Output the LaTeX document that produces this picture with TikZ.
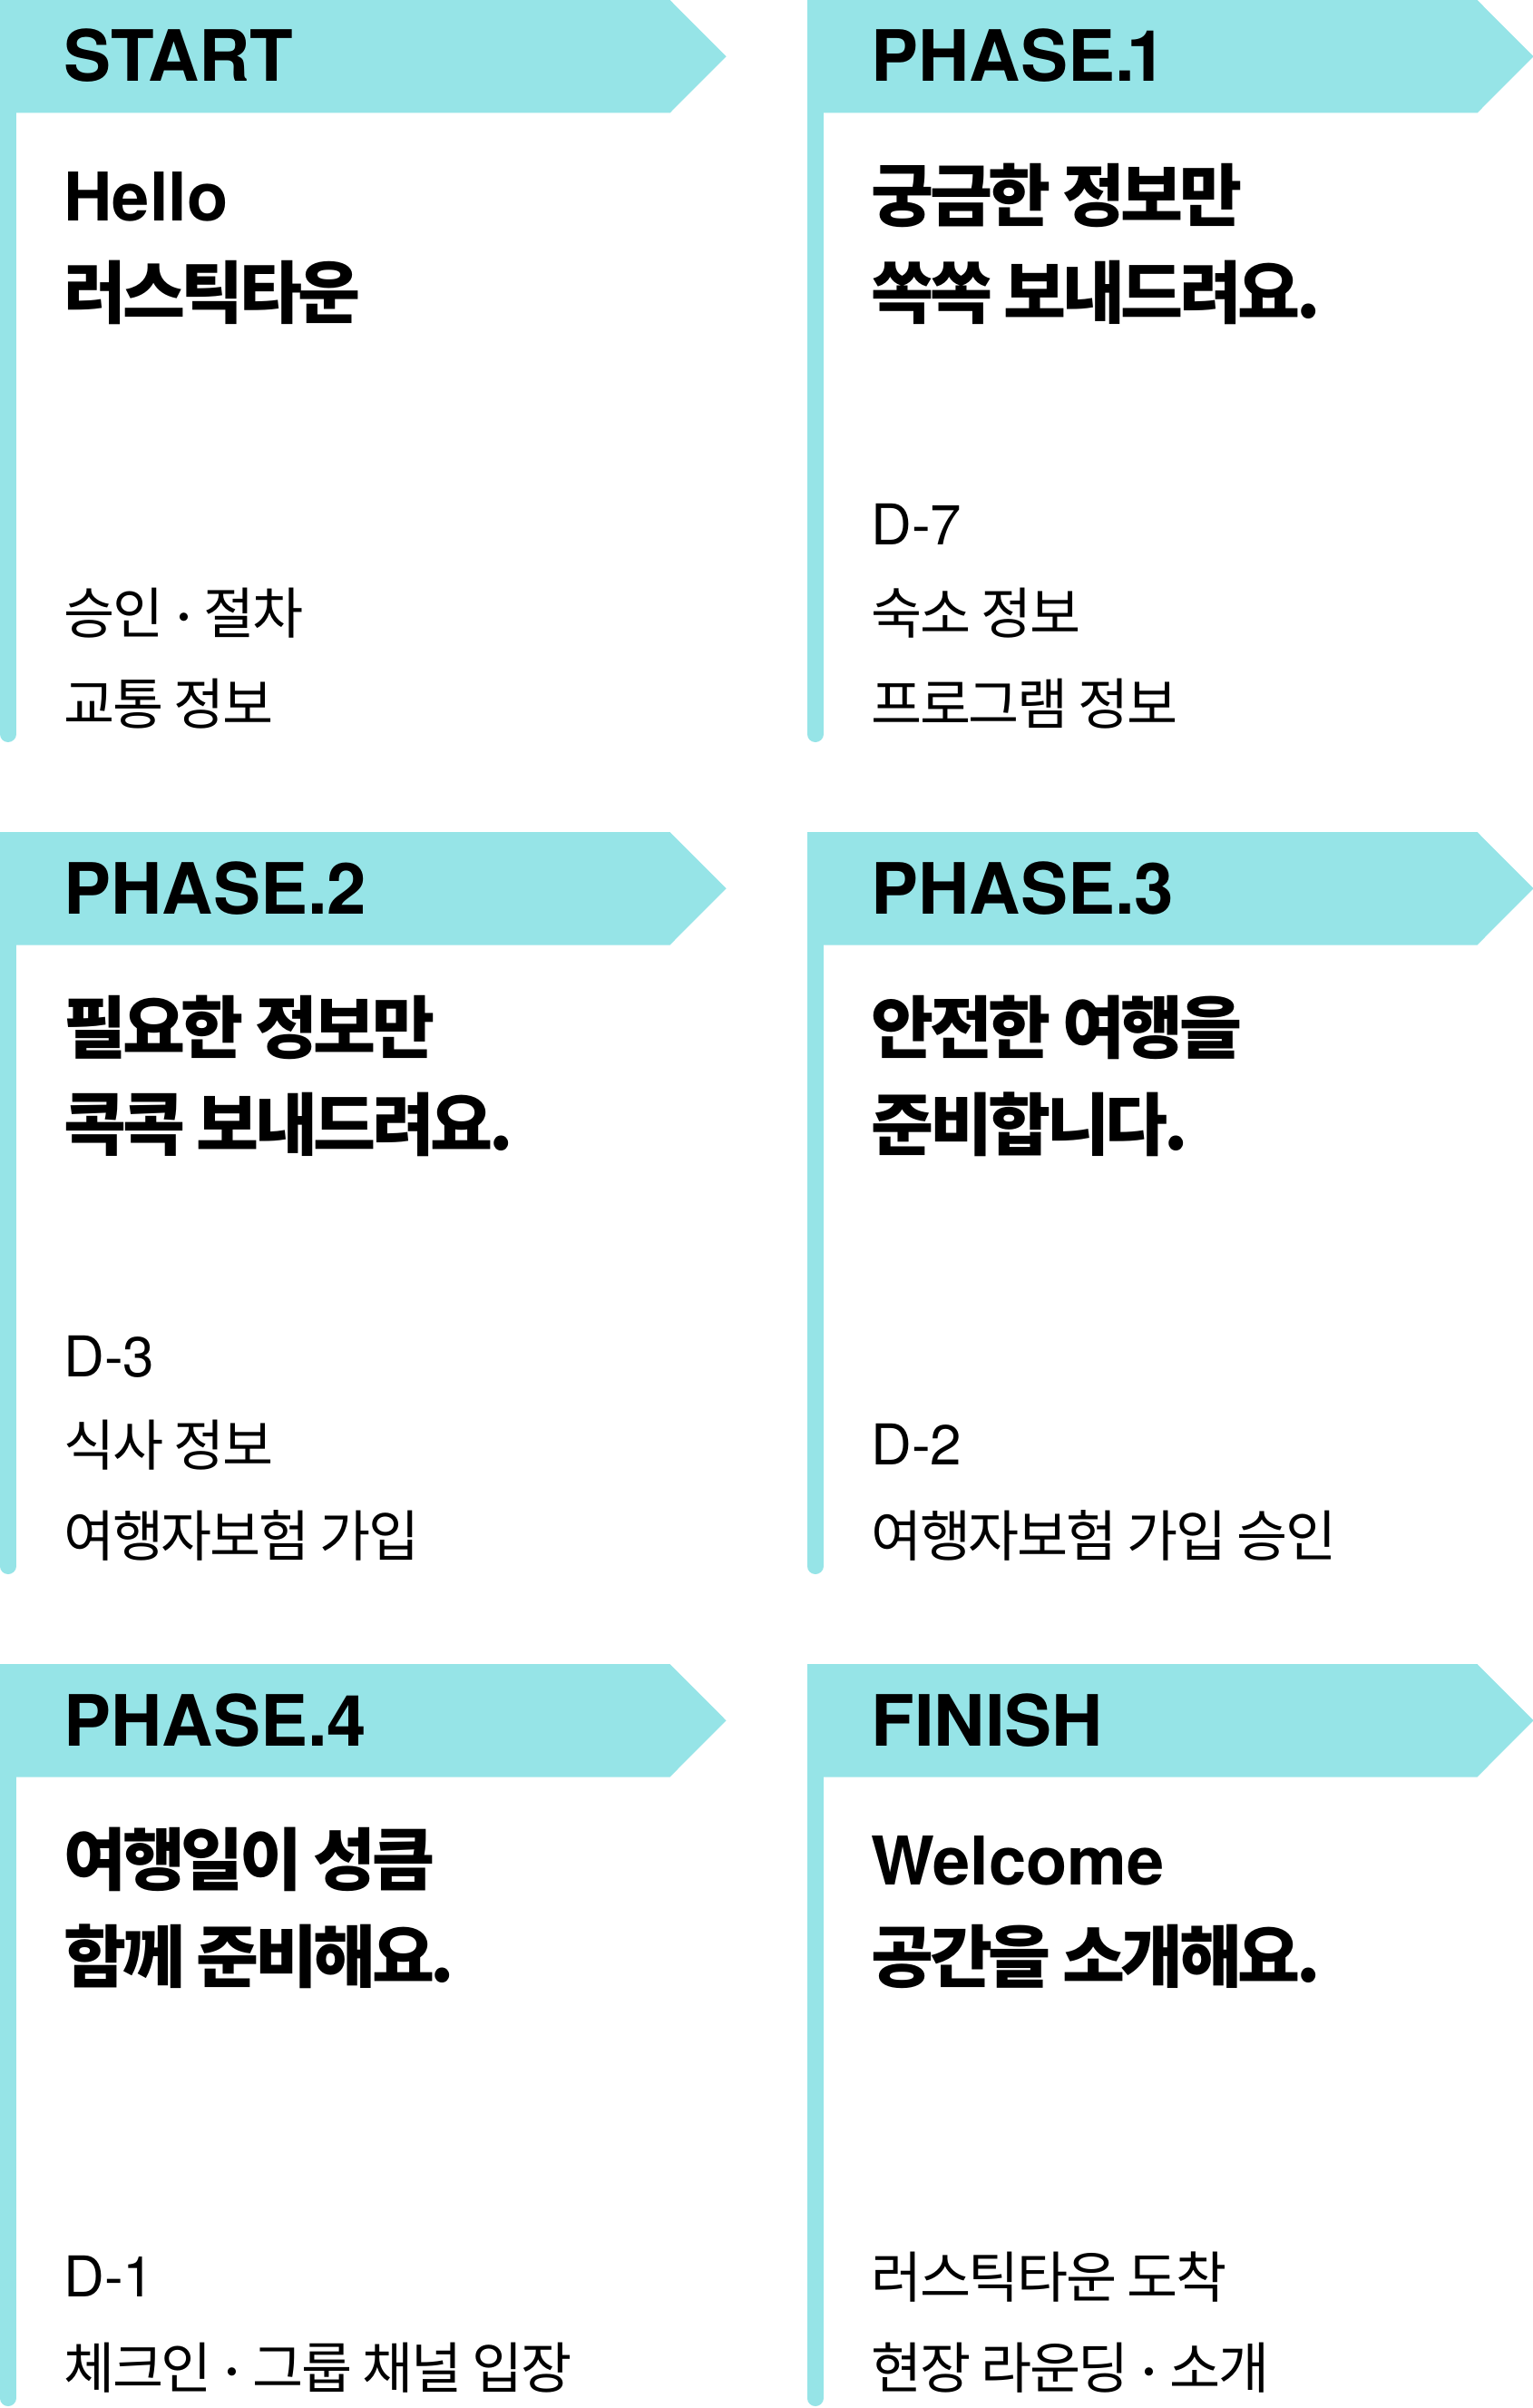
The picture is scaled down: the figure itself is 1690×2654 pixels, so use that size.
\documentclass[tikz,border=0pt]{standalone}
\usepackage{fontspec}
\setmainfont{TeX Gyre Heros}
\newfontfamily\korfont[LetterSpace=-6]{Noto Sans CJK KR}
\newfontfamily\korsub[LetterSpace=-4]{Noto Sans CJK KR}
\newcommand\mdot{\hspace{1.3pt}\raisebox{1.5pt}{\rmfamily\bfseries ·}\hspace{1.3pt}}
\definecolor{flagcyan}{RGB}{150,228,231}
\tikzset{
  band/.style={fill=flagcyan, draw=none},
  pole/.style={draw=flagcyan, line width=8.75pt, line cap=round},
  txt/.style={anchor=base west, inner sep=0pt, outer sep=0pt, text=black},
  hdr/.style={txt, font=\fontsize{39}{39}\selectfont\bfseries},
  ttl/.style={txt, font=\fontsize{37}{37}\selectfont\bfseries},
  ttlk/.style={txt, font=\korfont\fontsize{37.5}{37.5}\selectfont\bfseries},
  sub/.style={txt, font=\fontsize{31}{31}\selectfont},
  subk/.style={txt, font=\korsub\fontsize{30.5}{30.5}\selectfont},
}
\newcommand\flagshape[2]{%
  \fill[band] (#1,#2) -- ++(738.5,0) -- ++(62,62.25) -- ++(-62,62.25) -- ++(-738.5,0) -- cycle;
  \draw[pole] (#1+8.75,#2+60) -- (#1+8.75,#2+809.25);
}
\begin{document}
\begin{tikzpicture}[x=0.5pt,y=-0.5pt]
\useasboundingbox (0,0) rectangle (1690,2654);
\fill[white] (0,0) rectangle (1690,2654);

% panel shapes
\flagshape{0}{0}
\flagshape{890}{0}
\flagshape{0}{917}
\flagshape{890}{917}
\flagshape{0}{1834}
\flagshape{890}{1834}

% START
\node[hdr]  (h1)  at (70.5,90) {START};
\node[ttl]  (t1a) at (70.5,243) {Hello};
\node[ttlk] (t1b) at (70.5,350) {러스틱타운};
\node[subk] (s1b) at (70.5,698) {승인 \mdot{} 절차};
\node[subk] (s1c) at (70.5,798) {교통 정보};

% PHASE.1
\node[hdr]  (h2)  at (960.5,90) {PHASE.\kern-4pt1};
\node[ttlk] (t2a) at (960.5,243) {궁금한 정보만};
\node[ttlk] (t2b) at (960.5,350) {쏙쏙 보내드려요.};
\node[sub]  (s2a) at (960.5,600) {D-7};
\node[subk] (s2b) at (960.5,698) {숙소 정보};
\node[subk] (s2c) at (960.5,798) {프로그램 정보};

% PHASE.2
\node[hdr]  (h3)  at (70.5,1007) {PHASE.2};
\node[ttlk] (t3a) at (70.5,1160) {필요한 정보만};
\node[ttlk] (t3b) at (70.5,1267) {콕콕 보내드려요.};
\node[sub]  (s3a) at (70.5,1517) {D-3};
\node[subk] (s3b) at (70.5,1615) {식사 정보};
\node[subk] (s3c) at (70.5,1715) {여행자보험 가입};

% PHASE.3
\node[hdr]  (h4)  at (960.5,1007) {PHASE.3};
\node[ttlk] (t4a) at (960.5,1160) {안전한 여행을};
\node[ttlk] (t4b) at (960.5,1267) {준비합니다.};
\node[sub]  (s4a) at (960.5,1614) {D-2};
\node[subk] (s4b) at (960.5,1715) {여행자보험 가입 승인};

% PHASE.4
\node[hdr]  (h5)  at (70.5,1924) {PHASE.4};
\node[ttlk] (t5a) at (70.5,2077) {여행일이 성큼};
\node[ttlk] (t5b) at (70.5,2184) {함께 준비해요.};
\node[sub]  (s5a) at (70.5,2531) {D-1};
\node[subk] (s5b) at (70.5,2632) {체크인 \mdot{} 그룹 채널 입장};

% FINISH
\node[hdr]  (h6)  at (960.5,1924) {FINISH};
\node[ttl]  (t6a) at (960.5,2077) {Welcome};
\node[ttlk] (t6b) at (960.5,2184) {공간을 소개해요.};
\node[subk] (s6a) at (960.5,2532) {러스틱타운 도착};
\node[subk] (s6b) at (960.5,2632) {현장 라운딩 \mdot{} 소개};
\end{tikzpicture}
\end{document}
